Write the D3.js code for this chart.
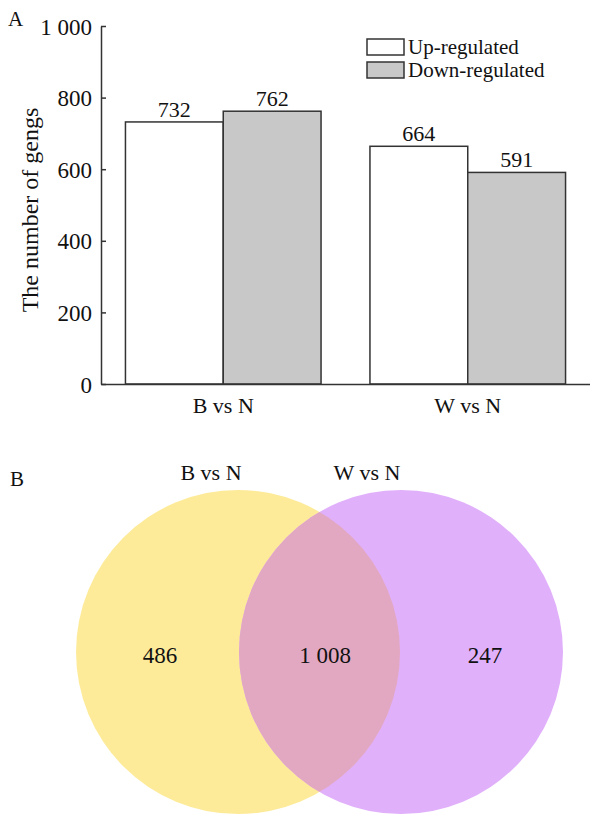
<!DOCTYPE html>
<html>
<head>
<meta charset="utf-8">
<script src="https://cdn.jsdelivr.net/npm/d3@7/dist/d3.min.js"></script>
<style>
  body { margin: 0; background: #fff; }
  text { font-family: "Liberation Serif", "Times New Roman", serif; fill: #111; }
</style>
</head>
<body>
<svg id="chart" width="590" height="815"></svg>
<script>
// 数据
const categories = ["B vs N", "W vs N"];
const seriesNames = ["Up-regulated", "Down-regulated"];
const upValues = [732, 664];
const downValues = [762, 591];
const yTicks = [0, 200, 400, 600, 800, 1000];
const vennSets = ["B vs N", "W vs N"];
const vennCounts = [486, 1008, 247]; // 仅B, 交集, 仅W

const fmt = n => d3.format(",")(n).replace(/,/g, " ");

const svg = d3.select("#chart");

/**
 * 柱状图 A
 */
function drawBars() {
    let x0 = d3.scaleBand()
        .domain(categories)
        .range([101, 590])
        .paddingInner(0.2)
        .paddingOuter(0.1);

    let x1 = d3.scaleBand()
        .domain(seriesNames)
        .range([0, x0.bandwidth()]);

    let y = d3.scaleLinear()
        .domain([0, 1000])
        .range([384, 26]);

    let color = d3.scaleOrdinal()
        .domain(seriesNames)
        .range(["#ffffff", "#c8c8c8"]);

    let g = svg.append("g");

    // 柱子
    let rows = categories.map((c, i) => ({cat: c, vals: [upValues[i], downValues[i]]}));
    let groups = g.selectAll(".grp")
        .data(rows)
        .enter()
        .append("g")
        .attr("transform", d => "translate(" + x0(d.cat) + ",0)");

    groups.selectAll("rect")
        .data(d => d.vals.map((v, j) => ({name: seriesNames[j], v: v})))
        .enter()
        .append("rect")
        .attr("x", d => x1(d.name))
        .attr("y", d => y(d.v))
        .attr("width", x1.bandwidth())
        .attr("height", d => y(0) - y(d.v))
        .attr("fill", d => color(d.name))
        .attr("stroke", "#333")
        .attr("stroke-width", 1.5);

    groups.selectAll(".val")
        .data(d => d.vals.map((v, j) => ({name: seriesNames[j], v: v})))
        .enter()
        .append("text")
        .attr("x", d => x1(d.name) + x1.bandwidth() / 2)
        .attr("y", d => y(d.v) - 5)
        .attr("text-anchor", "middle")
        .style("font-size", "22px")
        .text(d => d.v);

    // y 轴
    let yAxis = d3.axisLeft(y)
        .tickValues(yTicks)
        .tickSizeInner(-5)
        .tickSizeOuter(0)
        .tickPadding(9)
        .tickFormat(fmt);

    let ya = g.append("g")
        .attr("transform", "translate(101,0)")
        .call(yAxis)
        .attr("font-family", null)
        .attr("font-size", null);
    ya.select(".domain").attr("stroke", "#333").attr("stroke-width", 1.5);
    ya.selectAll(".tick line").attr("stroke", "#333").attr("stroke-width", 1.5);
    ya.selectAll(".tick text")
        .style("font-size", "23px")
        .attr("fill", "#111")
        .attr("dy", "0.35em");

    // x 轴
    let xAxis = d3.axisBottom(x0).tickSize(0).tickPadding(10);
    let xa = g.append("g")
        .attr("transform", "translate(0,384)")
        .call(xAxis)
        .attr("font-family", null)
        .attr("font-size", null);
    xa.select(".domain").attr("stroke", "#333").attr("stroke-width", 1.5);
    xa.selectAll(".tick text")
        .style("font-size", "22px")
        .attr("fill", "#111")
        .attr("dy", "0.85em");

    // y 轴标题
    g.append("text")
        .attr("transform", "translate(38,210) rotate(-90)")
        .attr("text-anchor", "middle")
        .style("font-size", "24px")
        .text("The number of gengs");

    // 图例
    let legend = g.selectAll(".legend")
        .data(seriesNames)
        .enter()
        .append("g")
        .attr("transform", (d, i) => "translate(367," + (39 + i * 23) + ")");
    legend.append("rect")
        .attr("width", 37)
        .attr("height", 16)
        .attr("fill", d => color(d))
        .attr("stroke", "#333")
        .attr("stroke-width", 1.5);
    legend.append("text")
        .attr("x", 41)
        .attr("y", 15)
        .style("font-size", "21px")
        .text(d => d);

    // 面板标签
    g.append("text").attr("x", 8).attr("y", 26).style("font-size", "21px").text("A");
}

/**
 * 韦恩图 B
 */
function drawVenn() {
    let r = 162;
    let cy = 652;
    let cx = d3.scalePoint().domain(vennSets).range([238, 401]);

    let g = svg.append("g");

    g.append("defs").append("clipPath")
        .attr("id", "clipB")
        .append("circle")
        .attr("cx", cx(vennSets[0]))
        .attr("cy", cy)
        .attr("r", r);

    g.selectAll(".circ")
        .data(vennSets)
        .enter()
        .append("circle")
        .attr("cx", d => cx(d))
        .attr("cy", cy)
        .attr("r", r)
        .attr("fill", (d, i) => i === 0 ? "#fdeb9a" : "#e1b0fb");

    // 交集
    g.append("circle")
        .attr("cx", cx(vennSets[1]))
        .attr("cy", cy)
        .attr("r", r)
        .attr("clip-path", "url(#clipB)")
        .attr("fill", "#e2a8c1");

    // 集合标题
    let titleX = [211, 367];
    g.selectAll(".set")
        .data(vennSets)
        .enter()
        .append("text")
        .attr("x", (d, i) => titleX[i])
        .attr("y", 480)
        .attr("text-anchor", "middle")
        .style("font-size", "22px")
        .text(d => d);

    // 数值
    let numX = [160, 325, 485];
    g.selectAll(".cnt")
        .data(vennCounts)
        .enter()
        .append("text")
        .attr("x", (d, i) => numX[i])
        .attr("y", 663)
        .attr("text-anchor", "middle")
        .style("font-size", "23px")
        .text(d => fmt(d));

    g.append("text").attr("x", 10).attr("y", 486).style("font-size", "21px").text("B");
}

drawBars();
drawVenn();
</script>
</body>
</html>
